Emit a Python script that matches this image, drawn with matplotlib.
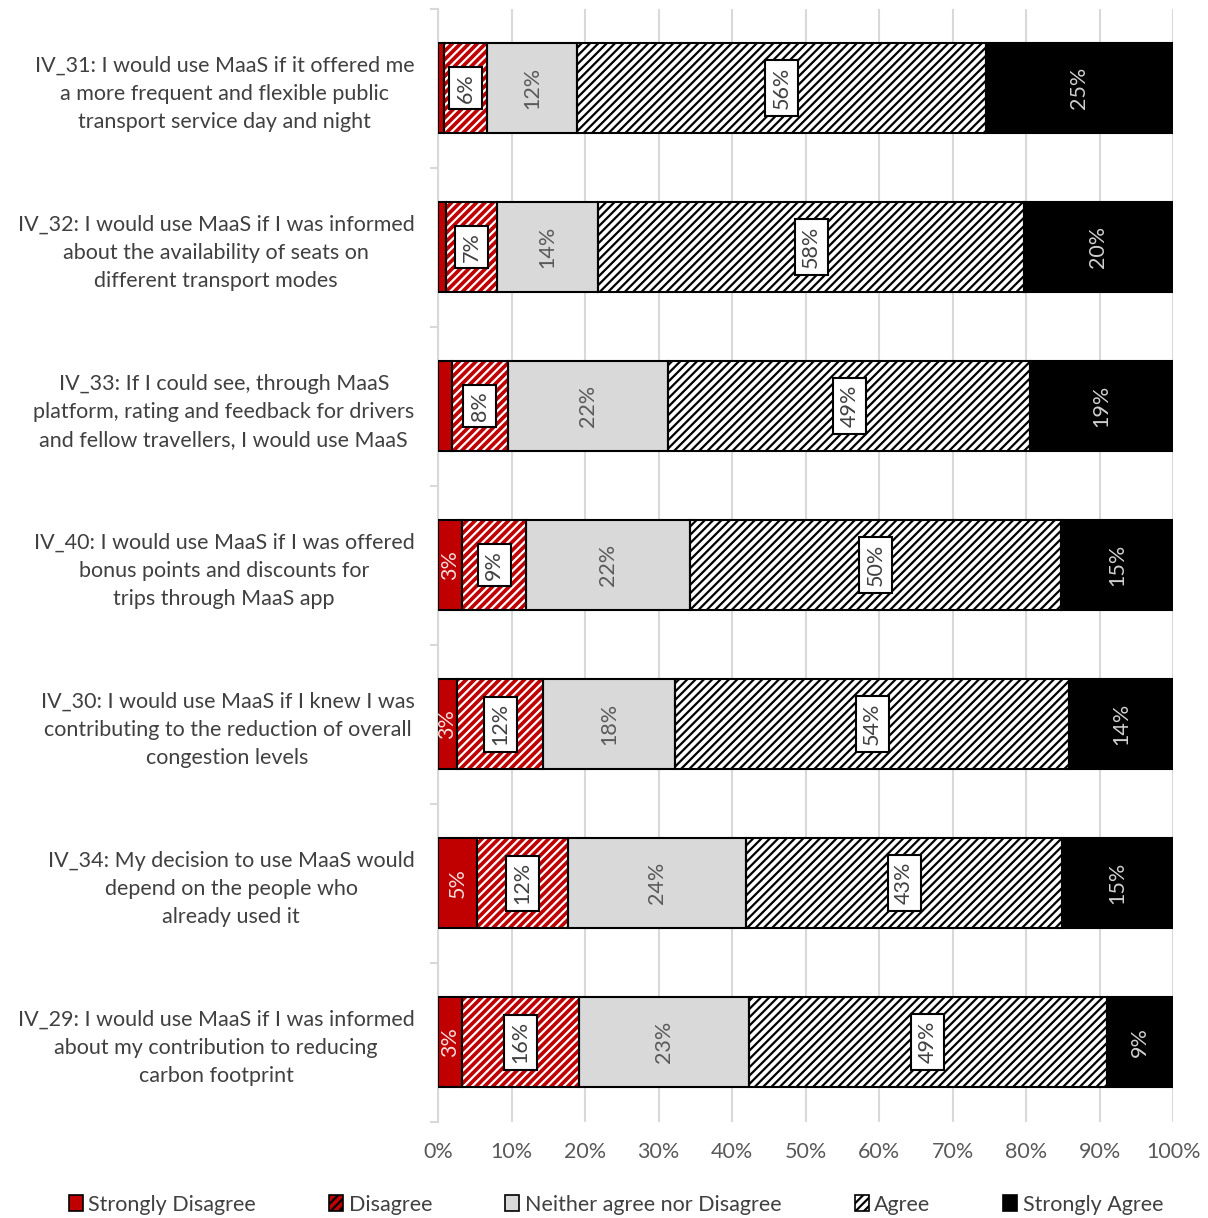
import matplotlib
matplotlib.use("Agg")
import matplotlib.pyplot as plt
from matplotlib.patches import Patch
import numpy as np

plt.rcParams['font.family'] = ['Lato', 'DejaVu Sans']
plt.rcParams['hatch.linewidth'] = 1.6

statements = [
    "IV_31: I would use MaaS if it offered me\na more frequent and flexible public\ntransport service day and night",
    "IV_32: I would use MaaS if I was informed\nabout the availability of seats on\ndifferent transport modes",
    "IV_33: If I could see, through MaaS\nplatform, rating and feedback for drivers\nand fellow travellers, I would use MaaS",
    "IV_40: I would use MaaS if I was offered\nbonus points and discounts for\ntrips through MaaS app",
    "IV_30: I would use MaaS if I knew I was\ncontributing to the reduction of overall\ncongestion levels",
    "IV_34: My decision to use MaaS would\ndepend on the people who\nalready used it",
    "IV_29: I would use MaaS if I was informed\nabout my contribution to reducing\ncarbon footprint",
]
strongly_disagree = [0.8, 1.1, 1.9, 3.3, 2.6, 5.3, 3.3]
disagree = [5.9, 6.9, 7.6, 8.7, 11.7, 12.4, 15.9]
neither = [12.2, 13.8, 21.8, 22.3, 17.9, 24.2, 23.1]
agree = [55.6, 57.9, 49.3, 50.4, 53.7, 43.0, 48.7]
strongly_agree = [25.4, 20.3, 19.4, 15.3, 14.1, 15.1, 9.0]
series_names = ["Strongly Disagree", "Disagree", "Neither agree nor Disagree", "Agree", "Strongly Agree"]
xticks = [0, 10, 20, 30, 40, 50, 60, 70, 80, 90, 100]

RED = "#c00000"
GREY_FILL = "#d9d9d9"
TXT = "#595959"
FS = 15.5

fig = plt.figure(figsize=(12.08, 12.18), dpi=100)
ax = fig.add_axes([0.3626, 0.0792, 0.6085, 0.9138])

y = np.arange(len(statements))
h = 0.566
series = [strongly_disagree, disagree, neither, agree, strongly_agree]
left = np.zeros(len(statements))

styles = [
    dict(face=RED, hatch=None, hcol=RED),
    dict(face=RED, hatch="////", hcol="white"),
    dict(face=GREY_FILL, hatch=None, hcol=GREY_FILL),
    dict(face="white", hatch="////", hcol="black"),
    dict(face="black", hatch=None, hcol="black"),
]

for i, (vals, st) in enumerate(zip(series, styles)):
    vals = np.array(vals)
    ax.barh(y, vals, left=left, height=h, color=st["face"], hatch=st["hatch"],
            edgecolor=st["hcol"], linewidth=0, zorder=3)
    ax.barh(y, vals, left=left, height=h, fill=False, edgecolor="black",
            linewidth=1.5, zorder=4)
    for j, v in enumerate(vals):
        cx = left[j] + v / 2
        lab = f"{v:.0f}%"
        if i == 0:
            if v >= 2.5:
                ax.text(cx, y[j], lab, rotation=90, ha="center", va="center",
                        color="#f2dcdc", fontsize=FS, zorder=5)
        elif i == 1 or i == 3:
            ax.text(cx, y[j], lab, rotation=90, ha="center", va="center",
                    color="#404040", fontsize=FS, zorder=5,
                    bbox=dict(boxstyle="square,pad=0.3", fc="white", ec="black", lw=1.5))
        elif i == 2:
            ax.text(cx, y[j], lab, rotation=90, ha="center", va="center",
                    color=TXT, fontsize=FS, zorder=5)
        else:
            ax.text(cx, y[j], lab, rotation=90, ha="center", va="center",
                    color="#d0d0d0", fontsize=FS, zorder=5)
    left = left + vals

ax.set_xlim(0, 100)
ax.set_ylim(len(statements) - 0.5, -0.5)
ax.set_xticks(xticks)
ax.set_xticklabels([f"{t}%" for t in xticks], fontsize=FS, color=TXT)
ax.set_yticks(y)
ax.set_yticklabels(statements, fontsize=FS, color="#404040", linespacing=1.5)
for t in ax.get_yticklabels():
    t.set_multialignment("center")
ax.set_yticks(np.arange(-0.5, len(statements) - 0.4, 1), minor=True)
ax.tick_params(axis="y", which="major", length=0, pad=17)
ax.tick_params(axis="y", which="minor", length=6, color="#d9d9d9", width=1.5)
ax.tick_params(axis="x", length=0, pad=15)
ax.grid(axis="x", color="#d9d9d9", linewidth=1.5, zorder=0)
ax.set_axisbelow(True)
for s in ["top", "right", "bottom"]:
    ax.spines[s].set_visible(False)
ax.spines["left"].set_color("#d9d9d9")
ax.spines["left"].set_linewidth(1.5)

handles = []
for name, st in zip(series_names, styles):
    handles.append(Patch(facecolor=st["face"], hatch=st["hatch"], edgecolor="black",
                         linewidth=1.2, label=name))
leg = fig.legend(handles=handles, loc="center", bbox_to_anchor=(0.51, 0.011), ncol=5,
                 frameon=False, fontsize=FS, handlelength=0.65, handleheight=0.8,
                 handletextpad=0.25, columnspacing=3.4)
for t in leg.get_texts():
    t.set_color("#404040")

fig.savefig("out.png", dpi=100)
